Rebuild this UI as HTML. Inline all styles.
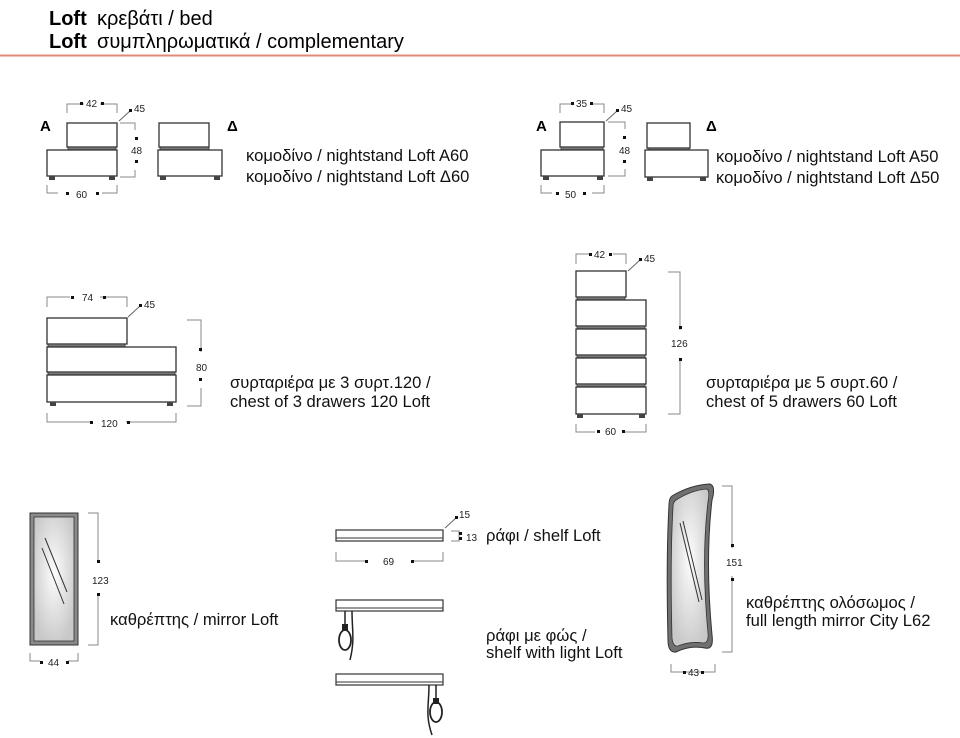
<!DOCTYPE html>
<html><head><meta charset="utf-8"><style>
html,body{margin:0;padding:0;background:#fff;}
svg{display:block;font-family:"Liberation Sans",Arial,sans-serif;}
.t{font-size:16.6px;fill:#111;}
.d{font-size:10px;fill:#222;}
.box{fill:#fff;stroke:#333;stroke-width:1.3;}
.strip{fill:#777;stroke:#333;stroke-width:0.8;}
.ft{fill:#444;}
.dim{fill:none;stroke:#888;stroke-width:1;}
.dot{fill:#111;}
</style></head><body>
<svg width="960" height="738" viewBox="0 0 960 738" xmlns="http://www.w3.org/2000/svg">
<defs>
<radialGradient id="g" cx="50%" cy="45%" r="60%"><stop offset="0" stop-color="#fdfdfd"/><stop offset="1" stop-color="#c8c8c8"/></radialGradient>
</defs>
<text x="49" y="25" style="font-size:20px;font-weight:bold">Loft</text>
<text x="97" y="25" style="font-size:20px">κρεβάτι / bed</text>
<text x="49" y="48" style="font-size:20px;font-weight:bold">Loft</text>
<text x="97" y="48" style="font-size:20px">συμπληρωματικά / complementary</text>
<line x1="0" y1="55.5" x2="960" y2="55.5" stroke="#e08a78" stroke-width="2"/>

<!-- Nightstand A60 -->
<text x="40" y="131" style="font-size:15px;font-weight:bold">A</text>
<rect class="box" x="67" y="123" width="50" height="24"/>
<rect class="strip" x="68" y="147" width="48" height="3"/>
<rect class="box" x="47" y="150" width="70" height="26"/>
<rect class="ft" x="49" y="176" width="6" height="4"/><rect class="ft" x="109" y="176" width="6" height="4"/>
<path class="dim" d="M67 113V104H117V113"/><rect class="dot" x="80" y="102" width="3" height="3"/><rect class="dot" x="101" y="102" width="3" height="3"/>
<rect x="84" y="98" width="16" height="12" fill="#fff"/><text class="d" x="86" y="107">42</text>
<line x1="119" y1="121" x2="130" y2="111" stroke="#666"/><rect class="dot" x="129" y="109" width="3" height="3"/><text class="d" x="134" y="112">45</text>
<path class="dim" d="M120 123H135V177H120"/><rect x="130" y="130" width="12" height="40" fill="#fff"/><rect class="dot" x="135" y="137" width="3" height="3"/><rect class="dot" x="135" y="160" width="3" height="3"/><text class="d" x="131" y="154">48</text>
<path class="dim" d="M47 185V193H117V185"/><rect x="58" y="188" width="44" height="12" fill="#fff"/><rect class="dot" x="66" y="192" width="3" height="3"/><rect class="dot" x="96" y="192" width="3" height="3"/><text class="d" x="76" y="198">60</text>
<!-- Δ60 -->
<rect class="box" x="159" y="123" width="50" height="24"/>
<rect class="strip" x="160" y="147" width="49" height="3"/>
<rect class="box" x="158" y="150" width="64" height="26"/>
<rect class="ft" x="160" y="176" width="6" height="4"/><rect class="ft" x="214" y="176" width="6" height="4"/>
<text x="227" y="131" style="font-size:15px;font-weight:bold">Δ</text>
<text class="t" x="246" y="161">κομοδίνο / nightstand Loft A60</text>
<text class="t" x="246" y="182">κομοδίνο / nightstand Loft Δ60</text>

<!-- Nightstand A50 -->
<text x="536" y="131" style="font-size:15px;font-weight:bold">A</text>
<rect class="box" x="560" y="122" width="44" height="25"/>
<rect class="strip" x="561" y="147" width="42" height="3"/>
<rect class="box" x="541" y="150" width="63" height="26"/>
<rect class="ft" x="543" y="176" width="6" height="4"/><rect class="ft" x="597" y="176" width="6" height="4"/>
<path class="dim" d="M560 113V104H604V113"/><rect x="572" y="98" width="20" height="12" fill="#fff"/><rect class="dot" x="571" y="102" width="3" height="3"/><rect class="dot" x="590" y="102" width="3" height="3"/><text class="d" x="576" y="107">35</text>
<line x1="606" y1="121" x2="617" y2="111" stroke="#666"/><rect class="dot" x="616" y="109" width="3" height="3"/><text class="d" x="621" y="112">45</text>
<path class="dim" d="M608 122H625V176H608"/><rect x="618" y="129" width="14" height="40" fill="#fff"/><rect class="dot" x="623" y="136" width="3" height="3"/><rect class="dot" x="623" y="160" width="3" height="3"/><text class="d" x="619" y="154">48</text>
<path class="dim" d="M541 185V193H604V185"/><rect x="552" y="188" width="40" height="12" fill="#fff"/><rect class="dot" x="556" y="192" width="3" height="3"/><rect class="dot" x="583" y="192" width="3" height="3"/><text class="d" x="565" y="198">50</text>
<rect class="box" x="647" y="123" width="43" height="25"/>
<rect class="strip" x="648" y="148" width="41" height="2"/>
<rect class="box" x="645" y="150" width="63" height="27"/>
<rect class="ft" x="647" y="177" width="6" height="4"/><rect class="ft" x="700" y="177" width="6" height="4"/>
<text x="706" y="131" style="font-size:15px;font-weight:bold">Δ</text>
<text class="t" x="716" y="162">κομοδίνο / nightstand Loft A50</text>
<text class="t" x="716" y="183">κομοδίνο / nightstand Loft Δ50</text>

<!-- Chest 120 -->
<rect class="box" x="47" y="318" width="80" height="26"/>
<rect class="strip" x="48" y="344" width="77" height="3"/>
<rect class="box" x="47" y="347" width="129" height="25"/>
<rect class="strip" x="48" y="372" width="127" height="3"/>
<rect class="box" x="47" y="375" width="129" height="27"/>
<rect class="ft" x="50" y="402" width="6" height="4"/><rect class="ft" x="167" y="402" width="6" height="4"/>
<path class="dim" d="M47 307V297H127V307"/><rect x="70" y="292" width="30" height="12" fill="#fff"/><rect class="dot" x="71" y="296" width="3" height="3"/><rect class="dot" x="103" y="296" width="3" height="3"/><text class="d" x="82" y="301">74</text>
<line x1="128" y1="317" x2="140" y2="306" stroke="#666"/><rect class="dot" x="139" y="304" width="3" height="3"/><text class="d" x="144" y="308">45</text>
<path class="dim" d="M187 320H201V406H187"/><rect x="194" y="352" width="14" height="36" fill="#fff"/><rect class="dot" x="199" y="348" width="3" height="3"/><rect class="dot" x="199" y="378" width="3" height="3"/><text class="d" x="196" y="371">80</text>
<path class="dim" d="M47 413V422H176V413"/><rect x="90" y="416" width="36" height="12" fill="#fff"/><rect class="dot" x="90" y="421" width="3" height="3"/><rect class="dot" x="127" y="421" width="3" height="3"/><text class="d" x="101" y="427">120</text>
<text class="t" x="230" y="388">συρταριέρα με 3 συρτ.120 /</text>
<text class="t" x="230" y="407">chest of 3 drawers 120  Loft</text>

<!-- Chest 60x5 -->
<rect class="box" x="576" y="271" width="50" height="26"/>
<rect class="strip" x="577" y="297" width="48" height="3"/>
<rect class="box" x="576" y="300" width="70" height="26"/>
<rect class="strip" x="577" y="326" width="68" height="3"/>
<rect class="box" x="576" y="329" width="70" height="26"/>
<rect class="strip" x="577" y="355" width="68" height="3"/>
<rect class="box" x="576" y="358" width="70" height="26"/>
<rect class="strip" x="577" y="384" width="68" height="3"/>
<rect class="box" x="576" y="387" width="70" height="27"/>
<rect class="ft" x="577" y="414" width="6" height="4"/><rect class="ft" x="639" y="414" width="6" height="4"/>
<path class="dim" d="M576 264V254H626V264"/><rect x="589" y="248" width="24" height="12" fill="#fff"/><rect class="dot" x="589" y="253" width="3" height="3"/><rect class="dot" x="609" y="253" width="3" height="3"/><text class="d" x="594" y="258">42</text>
<line x1="628" y1="271" x2="640" y2="260" stroke="#666"/><rect class="dot" x="639" y="258" width="3" height="3"/><text class="d" x="644" y="262">45</text>
<path class="dim" d="M668 272H680V414H668"/><rect x="670" y="330" width="22" height="30" fill="#fff"/><rect class="dot" x="679" y="326" width="3" height="3"/><rect class="dot" x="679" y="358" width="3" height="3"/><text class="d" x="671" y="347">126</text>
<path class="dim" d="M576 424V432H646V424"/><rect x="595" y="426" width="30" height="12" fill="#fff"/><rect class="dot" x="597" y="430" width="3" height="3"/><rect class="dot" x="622" y="430" width="3" height="3"/><text class="d" x="605" y="435">60</text>
<text class="t" x="706" y="388">συρταριέρα με 5 συρτ.60 /</text>
<text class="t" x="706" y="407">chest of 5 drawers 60  Loft</text>

<!-- Mirror Loft -->
<rect x="30" y="513" width="48" height="132" fill="#8a8a8a" stroke="#333" stroke-width="1"/>
<rect x="34" y="517" width="40" height="124" fill="url(#g)" stroke="#333" stroke-width="0.8"/>
<line x1="45" y1="538" x2="67" y2="592" stroke="#333"/><line x1="42" y1="548" x2="64" y2="604" stroke="#333"/>
<path class="dim" d="M88 513H98V645H88"/><rect x="92" y="563" width="22" height="30" fill="#fff"/><rect class="dot" x="97" y="560" width="3" height="3"/><rect class="dot" x="97" y="593" width="3" height="3"/><text class="d" x="92" y="584">123</text>
<path class="dim" d="M30 653V661H78V653"/><rect x="40" y="655" width="28" height="12" fill="#fff"/><rect class="dot" x="40" y="661" width="3" height="3"/><rect class="dot" x="66" y="661" width="3" height="3"/><text class="d" x="48" y="666">44</text>
<text class="t" x="110" y="625">καθρέπτης / mirror Loft</text>

<!-- Shelf -->
<rect x="336" y="530" width="107" height="11" fill="#fff" stroke="#333" stroke-width="1.2"/>
<line x1="336" y1="538" x2="443" y2="538" stroke="#333"/>
<line x1="445" y1="528" x2="456" y2="518" stroke="#666"/><rect class="dot" x="455" y="516" width="3" height="3"/><text class="d" x="459" y="518">15</text>
<path class="dim" d="M451 531H459V541H451"/><rect class="dot" x="459" y="532" width="3" height="3"/><rect class="dot" x="459" y="537" width="3" height="3"/><text class="d" x="466" y="541">13</text>
<path class="dim" d="M336 552V561H443V552"/><rect x="367" y="555" width="44" height="12" fill="#fff"/><rect class="dot" x="365" y="560" width="3" height="3"/><rect class="dot" x="411" y="560" width="3" height="3"/><text class="d" x="383" y="565">69</text>
<text class="t" x="486" y="541">ράφι / shelf Loft</text>

<!-- Shelf with light -->
<rect x="336" y="600" width="107" height="11" fill="#fff" stroke="#333" stroke-width="1.2"/>
<line x1="336" y1="608" x2="443" y2="608" stroke="#333"/>
<path d="M345 611V627M352 611C352 630 355 640 350 660" fill="none" stroke="#222" stroke-width="1.5"/>
<rect x="342" y="624" width="6" height="6" fill="#222"/>
<ellipse cx="345" cy="640" rx="6" ry="10" fill="none" stroke="#222" stroke-width="1.8"/>
<rect x="336" y="674" width="107" height="11" fill="#fff" stroke="#333" stroke-width="1.2"/>
<line x1="336" y1="682" x2="443" y2="682" stroke="#333"/>
<path d="M436 685V700M429 685C429 705 425 715 432 735" fill="none" stroke="#222" stroke-width="1.5"/>
<rect x="433" y="698" width="6" height="6" fill="#222"/>
<ellipse cx="436" cy="712" rx="6" ry="10" fill="none" stroke="#222" stroke-width="1.8"/>
<text class="t" x="486" y="641">ράφι με φώς /</text>
<text class="t" x="486" y="658">shelf with light Loft</text>

<!-- Full length mirror -->
<path d="M672 496 Q690 485 710 484 Q716 486 712 500 Q705 560 712 635 Q714 650 705 648 Q690 645 676 652 Q668 653 668 640 Q666 560 669 505 Q669 498 672 496Z" fill="#707070" stroke="#333" stroke-width="1"/>
<path d="M676 500 Q692 490 707 489 Q710 491 708 502 Q701 560 708 633 Q709 643 703 643 Q690 641 678 646 Q673 647 672 638 Q670 560 673 507 Q673 502 676 500Z" fill="url(#g)" stroke="#333" stroke-width="0.8"/>
<line x1="680" y1="523" x2="699" y2="602" stroke="#333"/><line x1="683" y1="521" x2="702" y2="600" stroke="#333"/>
<path class="dim" d="M722 486H732V652H722"/><rect x="724" y="548" width="20" height="28" fill="#fff"/><rect class="dot" x="731" y="544" width="3" height="3"/><rect class="dot" x="731" y="578" width="3" height="3"/><text class="d" x="726" y="566">151</text>
<path class="dim" d="M671 664V672H715V664"/><rect class="dot" x="683" y="671" width="3" height="3"/><rect class="dot" x="701" y="671" width="3" height="3"/><text class="d" x="688" y="676">43</text>
<text class="t" x="746" y="608">καθρέπτης ολόσωμος /</text>
<text class="t" x="746" y="626">full length mirror City L62</text>
</svg>
</body></html>
